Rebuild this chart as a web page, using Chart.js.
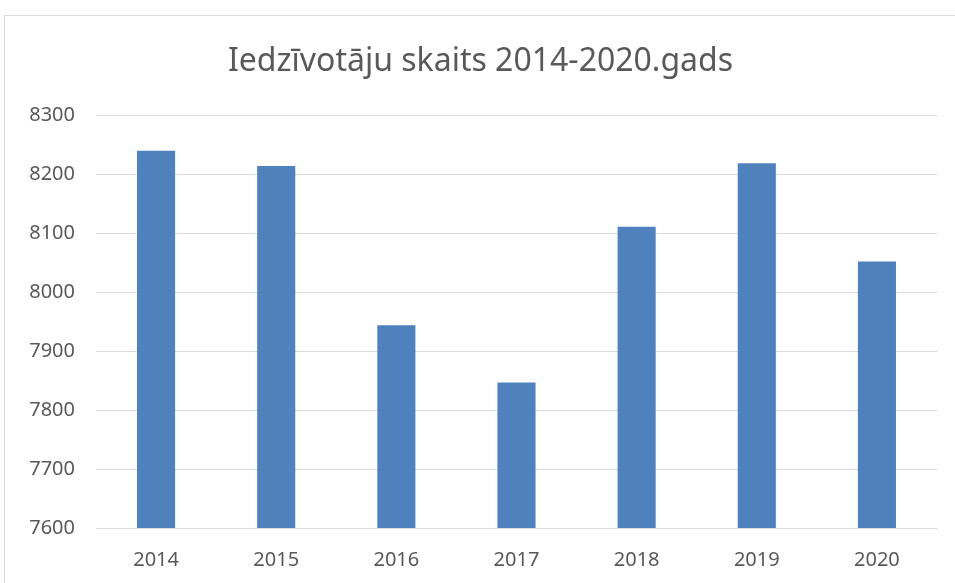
<!DOCTYPE html>
<html>
<head>
<meta charset="utf-8">
<script src="https://cdn.jsdelivr.net/npm/chart.js@4"></script>
<style>
  html, body { margin: 0; padding: 0; background: #fff; overflow: hidden; }
  #wrap { position: absolute; left: 0; top: 0; width: 955px; height: 583px; }
  #frame { position: absolute; left: 4px; top: 15px; width: 1000px; height: 700px;
           border: 1px solid #d9d9d9; pointer-events: none; }
</style>
</head>
<body>
<div id="wrap"><canvas id="popChart" width="955" height="583"></canvas></div>
<div id="frame"></div>
<script>
// iedzīvotāju skaits pa gadiem
const years = ['2014', '2015', '2016', '2017', '2018', '2019', '2020'];
const population = [8240, 8214, 7944, 7847, 8111, 8219, 8052];
const yTicks = [7600, 7700, 7800, 7900, 8000, 8100, 8200, 8300];

const fontFamily = '"Noto Sans", "Open Sans", sans-serif';
const textColor = '#595959';

const ctx = document.getElementById('popChart').getContext('2d');
new Chart(ctx, {
    type: 'bar',
    data: {
        labels: years,
        datasets: [{
            label: 'Iedzīvotāju skaits',
            data: population,
            backgroundColor: '#4f81bd',
            borderWidth: 0,
            categoryPercentage: 1,
            barPercentage: 0.317
        }]
    },
    options: {
        responsive: false,
        animation: false,
        // kreisā atkāpe nobīda virsrakstu pa labi, y ass platums to kompensē
        layout: { padding: { left: 24, right: 18, top: 0, bottom: 0 } },
        plugins: {
            legend: { display: false },
            tooltip: { enabled: false },
            title: {
                display: true,
                text: 'Iedzīvotāju skaits 2014-2020.gads',
                color: textColor,
                font: { family: fontFamily, size: 32, weight: 'normal' },
                padding: { top: 43, bottom: 34 }
            }
        },
        scales: {
            x: {
                grid: { display: false, drawTicks: false },
                border: { display: false },
                ticks: { color: textColor, font: { family: fontFamily, size: 20 }, padding: 20 },
                afterFit: (axis) => { axis.height = 55; }
            },
            y: {
                min: yTicks[0],
                max: yTicks[yTicks.length - 1],
                afterBuildTicks: (axis) => { axis.ticks = yTicks.map(v => ({ value: v })); },
                grid: { color: '#d9d9d9', lineWidth: 1, drawTicks: false },
                border: { display: false },
                ticks: {
                    color: textColor,
                    font: { family: fontFamily, size: 20 },
                    padding: 21,
                    callback: (v) => String(v)
                },
                afterFit: (axis) => { axis.width = 72; }
            }
        }
    }
});
</script>
</body>
</html>
